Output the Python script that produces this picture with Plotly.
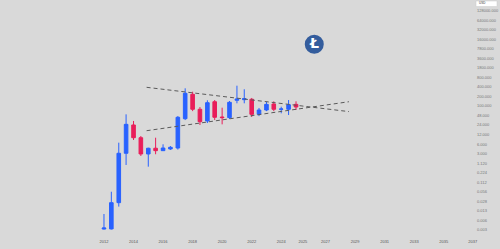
import plotly.graph_objects as go

# ---- data (half-year candles) ----
dates = ["2012-01-01", "2012-07-01", "2013-01-01", "2013-07-01", "2014-01-01", "2014-07-01",
         "2015-01-01", "2015-07-01", "2016-01-01", "2016-07-01", "2017-01-01", "2017-07-01",
         "2018-01-01", "2018-07-01", "2019-01-01", "2019-07-01", "2020-01-01", "2020-07-01",
         "2021-01-01", "2021-07-01", "2022-01-01", "2022-07-01", "2023-01-01", "2023-07-01",
         "2024-01-01", "2024-07-01", "2025-01-01"]
opens = [0.0129, 0.013, 0.088, 3.21, 25.2, 9.97, 3.05, 4.63, 3.88, 4.39, 4.71, 39.8,
         235, 79, 33.7, 137, 45, 43, 152, 159, 164, 54.7, 74.9, 116, 79, 79, 113]
highs = [0.0386, 0.195, 6.94, 54.7, 33.7, 11.3, 4.81, 9.97, 6.17, 5.44, 48.3, 364,
         284, 93, 152, 155, 88.7, 144, 440, 339, 180, 87, 134, 141, 95.3, 155, 141]
lows = [0.0125, 0.0125, 0.066, 1.37, 8.44, 2.64, 1.21, 2.99, 3.80, 4.08, 4.2, 36,
        69, 25.2, 29, 36, 26.4, 39, 122, 122, 45, 48, 69, 69, 58.9, 52, 75]
closes = [0.0139, 0.088, 3.21, 26.4, 9.97, 3.05, 4.63, 3.88, 4.71, 4.96, 44.1, 253,
          79, 32, 127.6, 44.1, 43, 131, 167, 171, 54.7, 74.9, 113, 79, 80.5, 110, 93.3]

upper_x = ["2014-11-20", "2028-08-01"]
upper_y = [391, 66.7]
lower_x = ["2014-11-20", "2028-08-01"]
lower_y = [16.6, 137]

x_tick_dates = ["2012-01-01", "2014-01-01", "2016-01-01", "2018-01-01", "2020-01-01",
                "2022-01-01", "2024-01-01", "2025-06-20", "2027-01-01", "2029-01-01",
                "2031-01-01", "2033-01-01", "2035-01-01", "2036-12-20"]
x_tick_text = ["2012", "2014", "2016", "2018", "2020", "2022", "2024", "2025", "2027",
               "2029", "2031", "2033", "2035", "2037"]

y_tick_vals = [400 * 2 ** n for n in range(8, -16, -1)]
y_tick_text = ["128000.000", "64000.000", "32000.000", "16000.000", "7800.000", "3600.000",
               "1800.000", "800.000", "400.000", "200.000", "100.000", "48.000", "24.000",
               "12.000", "6.000", "3.000", "1.120", "0.224", "0.112", "0.056", "0.028",
               "0.013", "0.006", "0.003"]

BLUE = "#2962ff"
RED = "#e91e5a"

fig = go.Figure()
fig.add_trace(go.Candlestick(
    x=dates, open=opens, high=highs, low=lows, close=closes,
    increasing=dict(line=dict(color=BLUE, width=1), fillcolor=BLUE),
    decreasing=dict(line=dict(color=RED, width=1), fillcolor=RED),
    whiskerwidth=0, showlegend=False, hoverinfo="skip"))
for xs, ys in ((upper_x, upper_y), (lower_x, lower_y)):
    fig.add_trace(go.Scatter(x=xs, y=ys, mode="lines", showlegend=False, hoverinfo="skip",
                             line=dict(color="#5a5a5a", width=1, dash="4px,3px")))

# Litecoin logo
lx, ly = 0.663, 0.814
fig.add_shape(type="circle", xref="paper", yref="paper", xsizemode="pixel", ysizemode="pixel",
              xanchor=lx, yanchor=ly, x0=-9.5, x1=9.5, y0=-9.5, y1=9.5,
              fillcolor="#345d9d", line=dict(width=0))
fig.add_annotation(x=lx, y=ly, xref="paper", yref="paper", text="<b>Ł</b>", showarrow=False,
                   xanchor="center", yanchor="middle", yshift=1,
                   font=dict(size=14, color="white", family="DejaVu Sans"))

# currency box top-right
fig.add_shape(type="rect", xref="paper", yref="paper", x0=1.0042, x1=1.0485, y0=0.9727, y1=0.9958,
              fillcolor="white", line=dict(color="#cccccc", width=0.5))
fig.add_annotation(x=1.009, y=0.9958, xref="paper", yref="paper", text="USD", showarrow=False,
                   xanchor="left", yanchor="top", borderpad=0, yshift=0.5,
                   font=dict(size=3, color="#333333"))

fig.update_layout(
    width=500, height=249, autosize=False,
    margin=dict(l=0, r=26, t=0, b=11),
    paper_bgcolor="#d9d9d9", plot_bgcolor="#d9d9d9",
    font=dict(family="Liberation Sans, Arial, sans-serif"),
    xaxis=dict(type="date", range=["2004-12-17", "2037-01-19"], rangeslider=dict(visible=False),
               showgrid=False, zeroline=False, showline=False, ticks="",
               tickmode="array", tickvals=x_tick_dates, ticktext=x_tick_text,
               tickfont=dict(size=4, color="#555555")),
    yaxis=dict(type="log", range=[-2.1726, 5.3531], side="right",
               showgrid=False, zeroline=False, showline=False, ticks="",
               tickmode="array", tickvals=y_tick_vals, ticktext=y_tick_text,
               tickfont=dict(size=4, color="#777777"), ticklabelstandoff=2),
)

fig.write_html("out.html")
